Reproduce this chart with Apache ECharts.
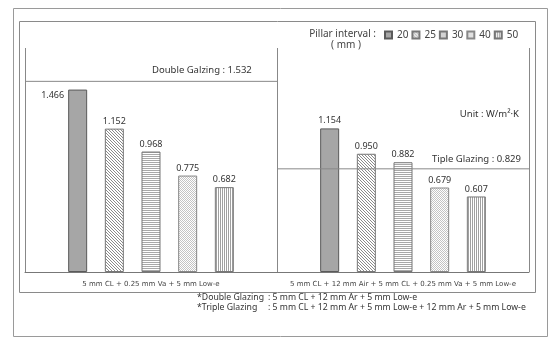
<!DOCTYPE html>
<html>
<head>
<meta charset="utf-8">
<script src="https://cdn.jsdelivr.net/npm/echarts@6/dist/echarts.min.js"></script>
<style>html,body{margin:0;padding:0;background:#fff}#c{width:550px;height:346px}</style>
</head>
<body>
<div id="c"></div>
<script>
// ---- data ----
const categories = ['5 mm CL + 0.25 mm Va + 5 mm Low-e', '5 mm CL + 12 mm Air + 5 mm CL + 0.25 mm Va + 5 mm Low-e'];
const seriesNames = ['20', '25', '30', '40', '50'];
const s20 = [1.466, 1.154];
const s25 = [1.152, 0.950];
const s30 = [0.968, 0.882];
const s40 = [0.775, 0.679];
const s50 = [0.682, 0.607];
const doubleGlazing = 1.532;
const tripleGlazing = 0.829;
const doubleLabel = 'Double Galzing : 1.532';
const tripleLabel = 'Tiple Glazing : 0.829';
const legendTitle = 'Pillar interval :';
const legendUnit = '( mm )';
const unitText = 'Unit : W/m\u00B2\u00B7K';
const note1a = '*Double Glazing', note1b = ': 5 mm CL + 12 mm Ar + 5 mm Low-e';
const note2a = '*Triple Glazing', note2b = ': 5 mm CL + 12 mm Ar + 5 mm Low-e + 12 mm Ar + 5 mm Low-e';

// ---- patterns ----
function pattern(kind) {
  const c = document.createElement('canvas');
  const ctx = c.getContext('2d');
  if (kind === 'diag') {
    c.width = 3; c.height = 3;
    ctx.fillStyle = '#fff'; ctx.fillRect(0, 0, 3, 3);
    ctx.fillStyle = '#8a8a8a';
    for (let i = 0; i < 3; i++) ctx.fillRect(i, i, 1, 1);
  } else if (kind === 'horiz') {
    c.width = 2; c.height = 2;
    ctx.fillStyle = '#fff'; ctx.fillRect(0, 0, 2, 2);
    ctx.fillStyle = '#a8a8a8'; ctx.fillRect(0, 0, 2, 1);
  } else if (kind === 'dots') {
    c.width = 2; c.height = 2;
    ctx.fillStyle = '#fff'; ctx.fillRect(0, 0, 2, 2);
    ctx.fillStyle = '#c4c4c4'; ctx.fillRect(0, 0, 1, 1); ctx.fillRect(1, 1, 1, 1);
  } else {
    c.width = 2; c.height = 2;
    ctx.fillStyle = '#fff'; ctx.fillRect(0, 0, 2, 2);
    ctx.fillStyle = '#a0a0a0'; ctx.fillRect(0, 0, 1, 2);
  }
  return { image: c, repeat: 'repeat' };
}
const fills = ['#a6a6a6', pattern('diag'), pattern('horiz'), pattern('dots'), pattern('vert')];
const borders = ['#5a5a5a', '#777', '#777', '#888', '#777'];
const allSeries = [s20, s25, s30, s40, s50];

const FONT = '"Noto Sans", "Open Sans", sans-serif';
const chart = echarts.init(document.getElementById('c'), null, { renderer: 'canvas' });

const barSeries = allSeries.map((arr, si) => ({
  name: seriesNames[si],
  type: 'bar',
  barWidth: 19,
  barGap: '93%',
  xAxisIndex: 0,
  yAxisIndex: 0,
  itemStyle: { color: fills[si], borderColor: borders[si], borderWidth: 1 },
  label: {
    show: true, position: 'top', distance: 3,
    fontSize: 9, fontFamily: FONT, color: '#333',
    formatter: p => Number(p.value).toFixed(3)
  },
  data: arr.map((v, i) => (si === 0 && i === 0)
    ? { value: v, label: { position: [-4, 6], align: 'right', verticalAlign: 'middle' } }
    : v)
}));

const option = {
  animation: false,
  backgroundColor: '#fff',
  grid: { left: 25, right: 21, top: 48, bottom: 74 },
  legend: {
    data: seriesNames,
    left: 384, top: 30, padding: 0,
    itemWidth: 7, itemHeight: 7, itemGap: 3,
    icon: 'rect',
    textStyle: { fontSize: 10, fontFamily: FONT, color: '#444' }
  },
  xAxis: [{
    type: 'category', data: categories,
    axisLine: { show: true, lineStyle: { color: '#777', width: 1 } },
    axisTick: { show: false },
    splitLine: { show: true, lineStyle: { color: '#888', width: 1 } },
    axisLabel: { fontSize: 7, fontFamily: '"DejaVu Sans", sans-serif', color: '#444', margin: 9, interval: 0 }
  }, {
    type: 'value', min: 0, max: 2, show: false
  }],
  yAxis: [{ type: 'value', min: 0, max: 1.8, show: false }],
  series: barSeries.concat([
    { type: 'line', xAxisIndex: 1, yAxisIndex: 0, symbol: 'none', silent: true,
      lineStyle: { color: '#888', width: 1 }, data: [[0, doubleGlazing], [1, doubleGlazing]] },
    { type: 'line', xAxisIndex: 1, yAxisIndex: 0, symbol: 'none', silent: true,
      lineStyle: { color: '#888', width: 1 }, data: [[1, tripleGlazing], [2, tripleGlazing]] }
  ])
};
chart.setOption(option);

const pD = chart.convertToPixel({ xAxisIndex: 1, yAxisIndex: 0 }, [0.9, doubleGlazing]);
const pT = chart.convertToPixel({ xAxisIndex: 1, yAxisIndex: 0 }, [1.968, tripleGlazing]);

function txt(text, x, y, align, size, color) {
  return { type: 'text', x: x, y: y, silent: true,
    style: { text: text, align: align || 'left', verticalAlign: 'middle',
      font: (size || 10) + 'px ' + FONT, fill: color || '#333' } };
}

chart.setOption({
  graphic: [
    { type: 'rect', shape: { x: 13.5, y: 8.5, width: 534, height: 328 }, style: { fill: null, stroke: '#9a9a9a', lineWidth: 1 }, silent: true, z: -1 },
    { type: 'rect', shape: { x: 19.5, y: 21.5, width: 516, height: 271 }, style: { fill: null, stroke: '#8a8a8a', lineWidth: 1 }, silent: true, z: -1 },
    txt(legendTitle, 376, 34, 'right', 10, '#444'),
    txt(legendUnit, 346, 45, 'center', 10, '#444'),
    txt(doubleLabel, pD[0], pD[1] - 11, 'right', 9.5, '#333'),
    txt(tripleLabel, pT[0], pT[1] - 10, 'right', 9.5, '#333'),
    txt(unitText, 519, 114, 'right', 9.5, '#333'),
    txt(note1a, 197, 298, 'left', 8.7, '#333'),
    txt(note1b, 268, 298, 'left', 8.7, '#333'),
    txt(note2a, 197, 308, 'left', 8.7, '#333'),
    txt(note2b, 268, 308, 'left', 8.7, '#333')
  ]
});
</script>
</body>
</html>
